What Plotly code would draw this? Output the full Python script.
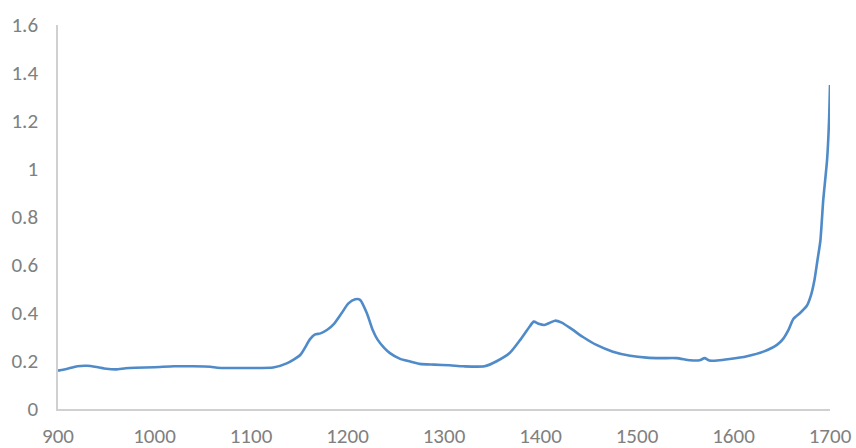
import plotly.graph_objects as go

# Wavenumber (cm-1) and absorbance of the measured spectrum
wavenumber = [900, 910, 920, 930, 940, 950, 960, 970, 980, 1000,
              1020, 1040, 1058, 1065, 1080, 1100, 1123, 1137, 1151, 1161,
              1166, 1172, 1179, 1186, 1194, 1201, 1208, 1213, 1220, 1226,
              1231, 1238, 1244, 1254, 1265, 1275, 1290, 1306, 1320, 1342,
              1355, 1368, 1379, 1389, 1393, 1398, 1404, 1410, 1415, 1422,
              1431, 1444, 1458, 1475, 1493, 1510, 1525, 1541, 1555, 1565,
              1570, 1575, 1583, 1596, 1614, 1631, 1645, 1651, 1657, 1662,
              1669, 1676, 1680, 1684, 1687, 1690, 1693, 1697, 1699, 1700]
absorbance = [0.160, 0.168, 0.178, 0.180, 0.175, 0.168, 0.165, 0.170, 0.172, 0.174,
              0.178, 0.178, 0.176, 0.172, 0.171, 0.171, 0.173, 0.190, 0.225, 0.290,
              0.310, 0.315, 0.330, 0.355, 0.400, 0.440, 0.457, 0.455, 0.400, 0.330,
              0.290, 0.255, 0.233, 0.210, 0.198, 0.188, 0.185, 0.182, 0.178, 0.178,
              0.200, 0.233, 0.288, 0.345, 0.364, 0.355, 0.350, 0.360, 0.368, 0.360,
              0.337, 0.300, 0.267, 0.239, 0.222, 0.214, 0.212, 0.212, 0.203, 0.203,
              0.212, 0.202, 0.202, 0.208, 0.220, 0.239, 0.267, 0.290, 0.330, 0.375,
              0.400, 0.430, 0.470, 0.540, 0.620, 0.700, 0.870, 1.040, 1.200, 1.350]

x_ticks = [900, 1000, 1100, 1200, 1300, 1400, 1500, 1600, 1700]
y_ticks = [0, 0.2, 0.4, 0.6, 0.8, 1, 1.2, 1.4, 1.6]
y_tick_text = ["0", "0.2", "0.4", "0.6", "0.8", "1", "1.2", "1.4", "1.6"]

fig = go.Figure(
    go.Scatter(
        x=wavenumber,
        y=absorbance,
        mode="lines",
        line=dict(color="#4f8bc9", width=2.6, shape="spline", smoothing=0.6),
        hoverinfo="x+y",
    )
)

tick_font = dict(family="Carlito, Calibri, 'Liberation Sans', Arial, sans-serif",
                 size=21, color="#808080")

fig.update_layout(
    width=856,
    height=448,
    margin=dict(l=58, r=26, t=25, b=39),
    paper_bgcolor="white",
    plot_bgcolor="white",
    showlegend=False,
    xaxis=dict(
        range=[900, 1700],
        tickvals=x_ticks,
        ticktext=[str(v) for v in x_ticks],
        showgrid=False,
        zeroline=False,
        showline=True,
        linecolor="#d0d0d0",
        linewidth=1.5,
        ticks="",
        tickfont=tick_font,
        ticklabelstandoff=7,
        automargin=False,
    ),
    yaxis=dict(
        range=[0, 1.6],
        tickvals=y_ticks,
        ticktext=y_tick_text,
        showgrid=False,
        zeroline=False,
        showline=True,
        linecolor="#d0d0d0",
        linewidth=1.5,
        ticks="",
        tickfont=tick_font,
        ticklabelstandoff=14,
        automargin=False,
    ),
)

fig.write_html("out.html")
